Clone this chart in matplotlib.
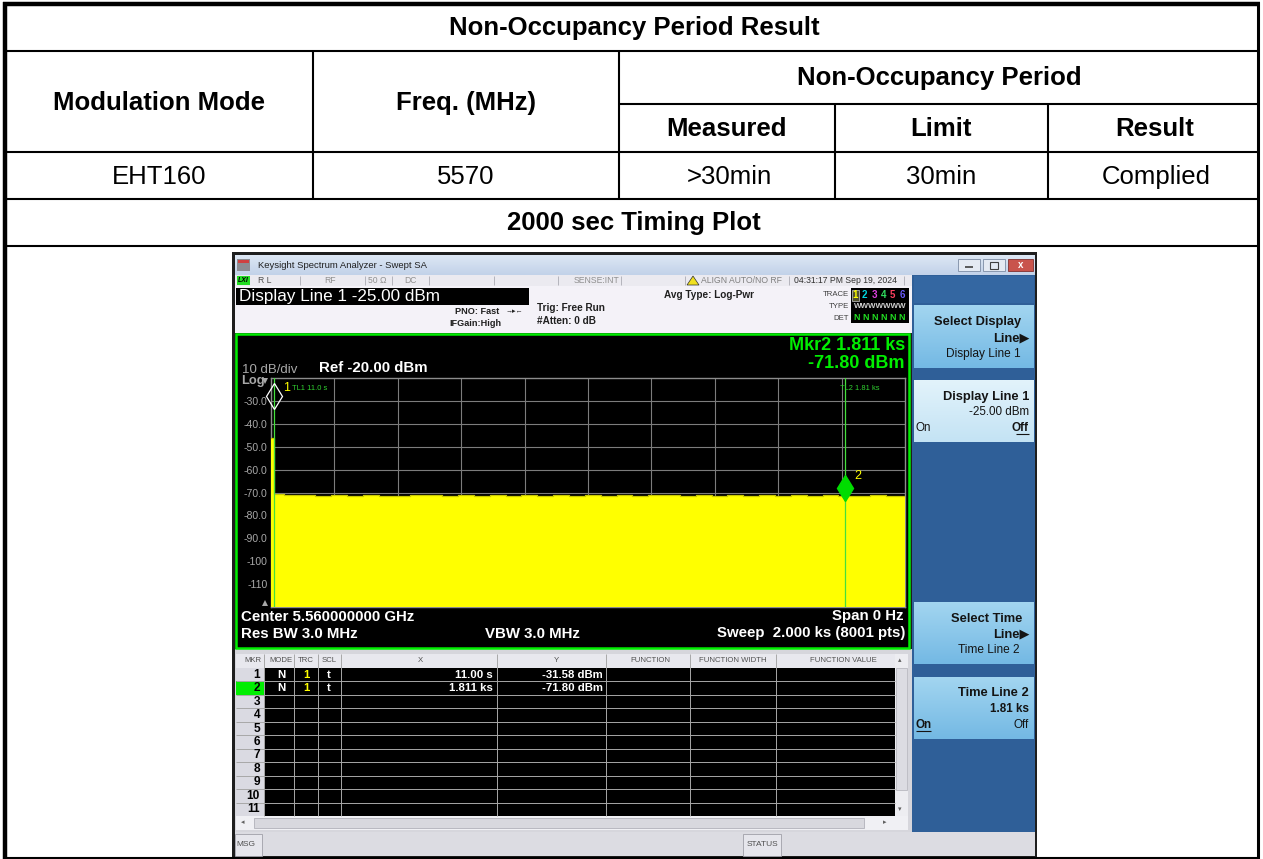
import numpy as np
import matplotlib.pyplot as plt
from matplotlib.patches import Rectangle, Polygon
from matplotlib.colors import LinearSegmentedColormap
from matplotlib import transforms

plt.rcParams['font.family'] = ['Liberation Sans', 'DejaVu Sans']

# ---- report table ----------------------------------------
table_title = "Non-Occupancy Period Result"
head_mode = "Modulation Mode"
head_freq = "Freq. (MHz)"
head_period = "Non-Occupancy Period"
sub_heads = ["Measured", "Limit", "Result"]
row_cells = ["EHT160", "5570", ">30min", "30min", "Complied"]
plot_caption = "2000 sec Timing Plot"

# ---- analyser screen ---------------------------------------
sweep_s = 2000.0
ref_dbm = -20.0
db_per_div = 10.0
n_div = 10
y_labels = ["-30.0", "-40.0", "-50.0", "-60.0", "-70.0", "-80.0", "-90.0", "-100", "-110"]

# top edge of the trace (s, dBm)
trace_t = [0, 11, 40, 90, 140, 190, 240, 290, 340, 390, 440, 490, 540, 590, 640,
           690, 740, 790, 840, 890, 940, 990, 1040, 1090, 1140, 1190, 1240, 1290,
           1340, 1390, 1440, 1490, 1540, 1590, 1640, 1690, 1740, 1790, 1840, 1890,
           1940, 2000]
trace_dbm = [-46.0, -70.6, -71.3, -71.0, -71.5, -71.2, -71.4, -70.9, -71.5, -71.6,
             -71.1, -71.3, -71.5, -71.0, -71.4, -71.2, -71.7, -71.3, -71.4, -70.9,
             -71.4, -71.2, -71.5, -71.1, -71.4, -71.3, -71.0, -71.5, -71.2, -71.4,
             -71.0, -71.5, -71.3, -71.6, -71.1, -71.4, -71.2, -71.5, -71.6, -71.3,
             -71.4, -71.4]

marker_t = [11.0, 1811.0]
marker_dbm = [-31.58, -71.80]
timeline_t = [11.0, 1811.0]
timeline_txt = ["TL1 11.0 s", "TL2 1.81 ks"]

mkr_mode = ["N", "N"]
mkr_trc = ["1", "1"]
mkr_scl = ["t", "t"]
mkr_x = ["11.00 s", "1.811 ks"]
mkr_y = ["-31.58 dBm", "-71.80 dBm"]
mkr_rows = 11

# ---- figure, pixel axes ------------------------------------
W, H = 1263, 859
fig = plt.figure(figsize=(W / 100, H / 100), dpi=100)
ax = fig.add_axes([0, 0, 1, 1])
ax.axis('off')


def box(x0, y0, x1, y1, fc, ec='none', lw=0.0, z=1):
    ax.add_patch(Rectangle((x0, y0), x1 - x0, y1 - y0, facecolor=fc,
                           edgecolor=ec, linewidth=lw, zorder=z))


def grad(x0, y0, x1, y1, c_top, c_bot, z=2):
    cm = LinearSegmentedColormap.from_list('g', [c_top, c_bot])
    ax.imshow(np.linspace(0, 1, 32).reshape(-1, 1), cmap=cm, extent=(x0, x1, y1, y0),
              aspect='auto', zorder=z, interpolation='bilinear')


def seg(x0, y0, x1, y1, c='black', lw=1.5, z=3):
    ax.plot([x0, x1], [y0, y1], color=c, lw=lw, zorder=z, solid_capstyle='butt')


def txt(x, y, s, size, c='black', ha='left', bold=False, z=6, **kw):
    ax.text(x, y, s, fontsize=size, color=c, ha=ha, va='center',
            fontweight='bold' if bold else 'normal', zorder=z, **kw)


# table frame
seg(3, 4, 1260, 4, lw=3.2)
seg(5, 2, 5, 859, lw=3.2)
seg(1258, 2, 1258, 859, lw=2.2)
for y in [51, 152, 199, 246]:
    seg(5, y, 1258, y)
seg(619, 104, 1258, 104)
seg(5, 857.5, 1258, 857.5)
for x in [313, 619]:
    seg(x, 51, x, 199)
for x in [835, 1048]:
    seg(x, 104, x, 199)

fs = 18.5
txt(634, 28, table_title, fs, ha='center', bold=True)
txt(159, 103, head_mode, fs, ha='center', bold=True)
txt(466, 103, head_freq, fs, ha='center', bold=True)
txt(939, 78, head_period, fs, ha='center', bold=True)
for cx, s in zip([727, 941, 1155], sub_heads):
    txt(cx, 129, s, fs, ha='center', bold=True)
for cx, s in zip([159, 466, 729, 941, 1156], row_cells):
    txt(cx, 177, s, fs, ha='center')
txt(634, 223, plot_caption, fs, ha='center', bold=True)

# ---- screen chrome ------------------------------------------
box(232, 252, 1037, 858, '#1e1e1e')
grad(235, 255, 1035, 275, '#dde7f4', '#c2d2e9')
box(237, 259, 250, 271, '#8c8c92', z=3)
box(238, 260, 249, 263, '#d04040', z=3)
txt(258, 266, "Keysight Spectrum Analyzer - Swept SA", 6.8, c='#202020')
box(958, 259, 980, 271, '#e4eaf3', ec='#7c8ca4', lw=0.6, z=3)
box(983, 259, 1005, 271, '#e4eaf3', ec='#7c8ca4', lw=0.6, z=3)
box(1008, 259, 1033, 271, '#c9544c', ec='#803030', lw=0.6, z=3)
seg(965, 267, 973, 267, c='#404040', lw=1.2, z=4)
box(990, 262, 998, 269, 'none', ec='#404040', lw=0.8, z=4)
txt(1020.5, 265, "x", 7, c='white', ha='center', bold=True)

# status strip
box(235, 275, 1035, 286, '#ebeaf0')
box(237, 276, 250, 285, '#22dd22')
txt(238, 280.5, "LXI", 5, c='black', bold=True, style='italic')
for x in [300, 365, 392, 429, 494, 558, 621, 685, 789, 904]:
    seg(x, 276, x, 285, c='#b4b4bc', lw=0.7)
txt(258, 280.5, "R L", 6.2, c='#505050')
txt(330, 280.5, "RF", 6.2, c='#909090', ha='center')
txt(377, 280.5, "50 Ω", 6.2, c='#909090', ha='center')
txt(410, 280.5, "DC", 6.2, c='#909090', ha='center')
txt(597, 280.5, "SENSE:INT", 6.2, c='#909090', ha='center')
ax.add_patch(Polygon([[687, 285], [693, 276], [699, 285]], closed=True,
                     facecolor='#f0e020', edgecolor='#303030', lw=0.5, zorder=4))
txt(701, 280.5, "ALIGN AUTO/NO RF", 6.2, c='#808080')
txt(794, 280.5, "04:31:17 PM Sep 19, 2024", 6.2, c='#303030')

# settings area
box(235, 286, 912, 333, '#f4f2f8')
box(236, 288, 529, 305, 'black', z=2)
txt(239, 296.5, "Display Line 1 -25.00 dBm", 12.3, c='white')
txt(499, 312, "PNO: Fast", 6.6, c='#202020', ha='right', bold=True)
txt(502, 323, "IFGain:High", 6.6, c='#202020', ha='right', bold=True)
txt(506, 312, "\u2192\u25b8\u2190", 5, c='#202020')
txt(537, 308, "Trig: Free Run", 7.2, c='#202020', bold=True)
txt(537, 321, "#Atten: 0 dB", 7.2, c='#202020', bold=True)
txt(664, 295, "Avg Type: Log-Pwr", 7.2, c='#202020', bold=True)
txt(849, 295, "TRACE", 5.6, c='#404040', ha='right')
txt(849, 306, "TYPE", 5.6, c='#404040', ha='right')
txt(849, 318, "DET", 5.6, c='#404040', ha='right')
box(851, 288, 909, 323, 'black', z=2)
trace_cols = ['#ffff00', '#00d8e0', '#e040e0', '#30e060', '#ff4060', '#6a5cff']
box(852, 289.5, 859, 300.5, '#505030', ec='#b0b0b0', lw=0.6, z=3)
for k, c in enumerate(trace_cols):
    txt(855.5 + 9.3 * k, 295, str(k + 1), 7, c=c, ha='center', bold=True)
txt(880, 306, "WWWWWWW", 5.8, c='#d0d0d0', ha='center', bold=True)
txt(880, 318, "N N N N N N", 6.4, c='#22dd22', ha='center', bold=True)

# soft keys
box(912, 275, 1035, 832, '#2f5f98')
box(914, 276, 1034, 303, '#3467a2')
grad(914, 305, 1034, 368, '#a2d5f0', '#74b9e4')
grad(914, 380, 1034, 442, '#e2f3fb', '#c4e3f4')
grad(914, 602, 1034, 664, '#a2d5f0', '#74b9e4')
grad(914, 677, 1034, 739, '#a2d5f0', '#74b9e4')
sk = '#141414'
txt(1021, 322, "Select Display", 9.3, c=sk, ha='right', bold=True)
txt(1030, 338, "Line\u25b6", 9.3, c=sk, ha='right', bold=True)
txt(1021, 354, "Display Line 1", 8.6, c=sk, ha='right')
txt(1029, 397, "Display Line 1", 9.3, c=sk, ha='right', bold=True)
txt(1029, 412, "-25.00 dBm", 8.4, c=sk, ha='right')
txt(916, 428, "On", 8.4, c=sk)
txt(1029, 428, "Off", 8.4, c=sk, ha='right', bold=True)
seg(1016, 434, 1029, 434, c=sk, lw=0.8, z=6)
txt(1022, 619, "Select Time", 9.3, c=sk, ha='right', bold=True)
txt(1030, 634, "Line\u25b6", 9.3, c=sk, ha='right', bold=True)
txt(1020, 650, "Time Line 2", 8.6, c=sk, ha='right')
txt(1029, 693, "Time Line 2", 9.3, c=sk, ha='right', bold=True)
txt(1029, 709, "1.81 ks", 8.4, c=sk, ha='right', bold=True)
txt(916, 725, "On", 8.4, c=sk, bold=True)
seg(916, 731, 931, 731, c=sk, lw=0.8, z=6)
txt(1029, 725, "Off", 8.4, c=sk, ha='right')

# graph frame
box(236, 334, 909, 648, 'black', ec='#00ee00', lw=1.8, z=2)
txt(905, 346, "Mkr2 1.811 ks", 13, c='#00ee00', ha='right', bold=True)
txt(905, 363, "-71.80 dBm", 13, c='#00ee00', ha='right', bold=True)
txt(242, 370, "10 dB/div", 9.5, c='#a8a8a8')
txt(319, 368, "Ref -20.00 dBm", 10.8, c='white', bold=True)
txt(241, 381, "Log", 9.3, c='#a8a8a8', bold=True)
ax.add_patch(Polygon([[262, 378], [268, 378], [265, 384]], closed=True,
                     facecolor='#a8a8a8', edgecolor='none', zorder=4))
ax.add_patch(Polygon([[265, 600], [268, 606], [262, 606]], closed=True,
                     facecolor='#a8a8a8', edgecolor='none', zorder=4))
txt(241, 617, "Center 5.560000000 GHz", 10.8, c='white', bold=True)
txt(241, 634, "Res BW 3.0 MHz", 10.8, c='white', bold=True)
txt(485, 634, "VBW 3.0 MHz", 10.8, c='white', bold=True)
txt(904, 616, "Span 0 Hz", 10.8, c='white', ha='right', bold=True)
txt(905, 633, "Sweep  2.000 ks (8001 pts)", 10.8, c='white', ha='right', bold=True)

# marker table
box(235, 649, 912, 832, '#d6d6dc')
row_h = (816 - 668) / mkr_rows
box(236, 654, 895, 668, '#e8e8ee', z=2)
box(264, 668, 895, 816, 'black', z=2)
box(236, 668, 264, 816, '#dadae2', z=2)
box(236, 668 + row_h, 264, 668 + 2 * row_h, '#00ee00', z=2)
for k in range(1, mkr_rows):
    seg(236, 668 + k * row_h, 895, 668 + k * row_h, c='#a8a8a8', lw=0.7, z=3)
for x in [264, 294, 318, 341, 497, 606, 690, 776]:
    seg(x, 654, x, 816, c='#a8a8a8', lw=0.7, z=3)
hdr = [("MKR", 253), ("MODE", 281), ("TRC", 306), ("SCL", 329), ("X", 420),
       ("Y", 556), ("FUNCTION", 650), ("FUNCTION WIDTH", 733), ("FUNCTION VALUE", 843)]
for s, cx in hdr:
    txt(cx, 661, s, 5.6, c='#505050', ha='center')
for k in range(mkr_rows):
    txt(260, 668 + (k + 0.5) * row_h, str(k + 1), 8.6, c='black', ha='right', bold=True)
for k in range(len(mkr_x)):
    yy = 668 + (k + 0.5) * row_h
    txt(281, yy, mkr_mode[k], 8.2, c='white', ha='center', bold=True)
    txt(306, yy, mkr_trc[k], 8.2, c='#ffff00', ha='center', bold=True)
    txt(329, yy, mkr_scl[k], 8.2, c='white', ha='center', bold=True)
    txt(493, yy, mkr_x[k], 8.2, c='white', ha='right', bold=True)
    txt(603, yy, mkr_y[k], 8.2, c='white', ha='right', bold=True)
box(895, 654, 908, 816, '#ededf1', z=2)
box(896, 668, 907, 790, '#dcdce2', ec='#b0b0b8', lw=0.5, z=3)
box(236, 816, 908, 830, '#f0f0f4', z=2)
box(254, 818, 864, 828, '#d8d8de', ec='#a8a8b0', lw=0.5, z=3)
txt(241, 823, "\u25c2", 5, c='#606060')
txt(883, 823, "\u25b8", 5, c='#606060')
txt(900, 661, "\u25b4", 5, c='#606060', ha='center')
txt(900, 810, "\u25be", 5, c='#606060', ha='center')

# bottom status bar
box(235, 832, 1035, 856, '#dcdce2')
box(235, 834, 262, 856, '#e6e6ec', ec='#a0a0a8', lw=0.6, z=2)
txt(236.5, 845, "MSG", 6, c='#505050')
box(743, 834, 781, 856, '#e6e6ec', ec='#a0a0a8', lw=0.6, z=2)
txt(762, 845, "STATUS", 6, c='#505050', ha='center')

ax.set_xlim(0, W)
ax.set_ylim(H, 0)

# ---- trace graticule (data axes) -----------------------------
L, R, T, B = 271, 905, 378, 607
sax = fig.add_axes([L / W, 1 - B / H, (R - L) / W, (B - T) / H])
bottom = ref_dbm - n_div * db_per_div
sax.set_xlim(0, sweep_s)
sax.set_ylim(bottom, ref_dbm)
sax.set_facecolor('black')
sax.set_xticks(np.linspace(0, sweep_s, n_div + 1)[1:-1])
sax.set_yticks(np.arange(ref_dbm - db_per_div, bottom, -db_per_div))
sax.set_yticklabels(y_labels)
sax.grid(True, color='#7c7c7c', lw=0.8)
sax.set_axisbelow(True)
sax.tick_params(length=0, pad=2.5, labelbottom=False, labelsize=7.6, labelcolor='#a8a8a8')
for s in sax.spines.values():
    s.set_color('#8c8c8c')
    s.set_linewidth(1.0)

sax.fill_between(trace_t, bottom, trace_dbm, step='post', color='#ffff00', lw=0, zorder=3)
sax.step(trace_t, trace_dbm, where='post', color='#c8c800', lw=0.9, zorder=3.5)
for t in timeline_t:
    sax.axvline(t, color='#44e03c', lw=0.9, zorder=4)
sax.text(timeline_t[0] + 55, -24.5, timeline_txt[0], fontsize=5.4, color='#30d030',
         ha='left', va='center', zorder=5)
sax.text(timeline_t[1] - 15, -24.5, timeline_txt[1], fontsize=5.4, color='#30d030',
         ha='left', va='center', zorder=5)

up = transforms.offset_copy(sax.transData, fig=fig, x=0, y=9, units='dots')
sax.plot(marker_t[0], marker_dbm[0], marker='d', ms=13, mfc='none', mec='white',
         mew=0.9, transform=up, zorder=6, clip_on=False)
sax.plot(marker_t[1], marker_dbm[1], marker='d', ms=13, mfc='#00dd00', mec='#00dd00',
         transform=up, zorder=6)
sax.annotate("1", (marker_t[0], marker_dbm[0]), xytext=(6, 12), textcoords='offset points',
             color='#ffff00', fontsize=9, va='center', zorder=7)
sax.annotate("2", (marker_t[1], marker_dbm[1]), xytext=(7, 15), textcoords='offset points',
             color='#ffff00', fontsize=9, va='center', zorder=7)

fig.savefig("out.png", dpi=100)
